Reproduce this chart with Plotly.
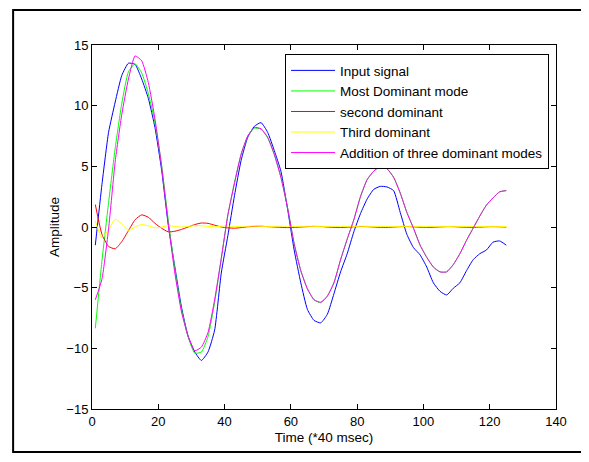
import plotly.graph_objects as go

time = list(range(1, 126, 2))

input_signal = [-1.5, 3.5, 7.8, 10.3, 12.5, 13.5, 13.4, 12.2, 10.6, 8.2,
                4.7, 0.2, -3.3, -6.6, -9.0, -10.3, -11.0, -10.3, -8.5, -3.8,
                -0.7, 2.6, 5.5, 7.4, 8.3, 8.6, 7.8, 6.3, 4.6, 1.5,
                -1.9, -4.6, -6.8, -7.7, -7.9, -7.2, -5.5, -3.7, -2.2, -0.4,
                1.1, 2.3, 3.1, 3.35, 3.3, 3.0, 1.2, -0.6, -1.7, -2.3,
                -3.3, -4.6, -5.3, -5.6, -5.05, -4.6, -3.6, -2.7, -2.2, -1.9,
                -1.25, -1.15, -1.5]

most_dominant = [-8.35, -2.8, 2.0, 6.5, 10.2, 12.8, 13.45, 12.7, 11.0, 8.6,
                 5.1, 0.6, -3.5, -6.8, -9.05, -10.4, -10.3, -9.05, -6.2, -2.6,
                 1.0, 3.7, 6.0, 7.5, 8.15, 8.05, 7.35, 5.95, 4.1, 1.6,
                 -1.35, -3.6, -5.1, -6.0, -6.25, -5.7, -4.6, -2.7, -1.0, 0.6,
                 2.5, 3.9, 4.6, 5.0, 4.8, 4.1, 2.8, 1.2, -0.1, -1.5,
                 -2.5, -3.3, -3.7, -3.7, -3.1, -2.2, -1.1, -0.1, 0.9, 1.8,
                 2.4, 2.9, 3.0]

second_dominant = [1.85, -0.6, -1.6, -1.8, -1.2, -0.3, 0.6, 1.0, 0.8, 0.3,
                   -0.1, -0.4, -0.35, -0.2, 0.0, 0.2, 0.33, 0.3, 0.15, 0.0,
                   -0.07, -0.1, -0.05, 0.02, 0.05, 0.06, 0.03, 0.0, -0.03, -0.05,
                   -0.04, 0.0, 0.03, 0.05, 0.04, 0.0, -0.03, -0.04, -0.02, 0.02,
                   0.04, 0.03, 0.0, -0.03, -0.03, 0.0, 0.03, 0.04, 0.02, -0.02,
                   -0.03, -0.02, 0.01, 0.03, 0.03, 0.0, -0.02, -0.03, -0.01, 0.02,
                   0.03, 0.02, 0.0]

third_dominant = [0.5, -0.9, -0.2, 0.65, 0.25, -0.3, 0.0, 0.2, 0.1, -0.07,
                  0.0, 0.1, 0.05, 0.0, 0.05, 0.1, 0.1, 0.05, 0.02, 0.06,
                  0.08, 0.05, 0.03, 0.06, 0.08, 0.06, 0.03, 0.05, 0.07, 0.05,
                  0.03, 0.05, 0.06, 0.05, 0.03, 0.04, 0.06, 0.05, 0.03, 0.04,
                  0.06, 0.05, 0.03, 0.04, 0.05, 0.04, 0.03, 0.05, 0.05, 0.04,
                  0.03, 0.05, 0.05, 0.04, 0.03, 0.04, 0.05, 0.04, 0.03, 0.04,
                  0.05, 0.04, 0.04]

addition = [-6.0, -4.3, -0.15, 5.4, 9.3, 12.2, 14.1, 13.7, 11.9, 8.9,
            5.0, 0.3, -3.8, -7.0, -9.0, -10.2, -9.9, -8.7, -6.0, -2.6,
            1.0, 3.6, 6.0, 7.5, 8.2, 8.1, 7.4, 6.0, 4.1, 1.6,
            -1.4, -3.6, -5.1, -6.0, -6.2, -5.7, -4.6, -2.7, -1.0, 0.6,
            2.5, 3.9, 4.6, 5.0, 4.8, 4.1, 2.8, 1.2, -0.1, -1.5,
            -2.5, -3.3, -3.7, -3.7, -3.1, -2.2, -1.1, -0.1, 0.9, 1.8,
            2.4, 2.9, 3.0]

series = [
    ("Input signal", input_signal, "#0000FF"),
    ("Most Dominant mode", most_dominant, "#00FF00"),
    ("second dominant", second_dominant, "#FF0000"),
    ("Third dominant", third_dominant, "#FFFF00"),
    ("Addition of three dominant modes", addition, "#FF00FF"),
]

x_ticks = [0, 20, 40, 60, 80, 100, 120, 140]
y_ticks = [-15, -10, -5, 0, 5, 10, 15]

fig = go.Figure()
for name, vals, col in series:
    fig.add_trace(go.Scatter(x=time, y=vals, mode="lines", name=name,
                             line=dict(color=col, width=1, shape="spline", smoothing=0.5)))

font_family = "Liberation Sans, Arial, sans-serif"
axis_common = dict(showgrid=False, zeroline=False, showline=True, linecolor="black",
                   linewidth=1, mirror="allticks", ticks="inside", ticklen=5,
                   tickcolor="black", tickfont=dict(size=13, color="black", family=font_family))

fig.update_layout(
    width=581, height=454,
    margin=dict(l=84, r=33, t=37, b=53),
    paper_bgcolor="white", plot_bgcolor="white",
    font=dict(family=font_family, size=13, color="black"),
    xaxis=dict(range=[0, 140], tickvals=x_ticks, title=dict(text="Time (*40 msec)", standoff=4,
               font=dict(size=13.5)), **axis_common),
    yaxis=dict(range=[-15, 15], tickvals=y_ticks, title=dict(text="Amplitude", standoff=3,
               font=dict(size=13.5)), **axis_common),
    legend=dict(x=0.985, y=0.975, xanchor="right", yanchor="top", bgcolor="white",
                bordercolor="black", borderwidth=1, font=dict(size=13.5, family=font_family),
                tracegroupgap=0, itemwidth=44),
    showlegend=True,
)

fig.add_shape(type="rect", xref="paper", yref="paper",
              x0=-0.170, x1=1.0625, y0=-0.118, y1=1.096,
              line=dict(color="black", width=2), fillcolor="rgba(0,0,0,0)", layer="below")

fig.write_html("out.html")
